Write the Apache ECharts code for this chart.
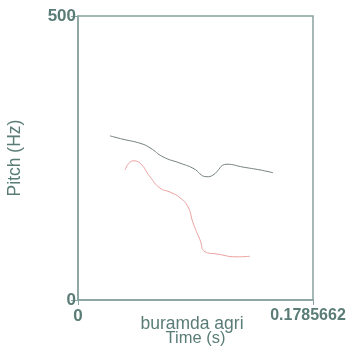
<!DOCTYPE html>
<html><head><meta charset="utf-8">
<script src="https://cdn.jsdelivr.net/npm/echarts@6/dist/echarts.min.js"></script>
<style>html,body{margin:0;padding:0;background:#fff}#c{width:353px;height:350px}</style>
</head><body><div id="c"></div>
<script>
const xMin = 0, xMax = 0.1785662;
const yMin = 0, yMax = 500;
const xTickLabels = ["0", "0.1785662"];
const yTickLabels = ["0", "500"];
const grayTimes = [0.0243,0.0342,0.0471,0.0547,0.0646,0.0775,0.0874,0.0980,0.1026,0.1132,0.1254,0.1383,0.1482];
const grayPitch = [289,283,276,268,252,241,232,217,220,239,234,229,224];
const redTimes = [0.0357,0.0418,0.0471,0.0547,0.0623,0.0699,0.0775,0.0836,0.0874,0.0927,0.0965,0.1056,0.1208,0.1307];
const redPitch = [229,245,241,217,197,190,180,164,136,106,85,81,76,77];
const fileLabel = "buramda agri";

const axisCol = '#86a39f', textCol = '#5a7c76';
const F = 'Liberation Sans';
const chart = echarts.init(document.getElementById('c'));
chart.setOption({
  animation:false,
  grid:{left:78,right:40,top:16,bottom:50,show:true,borderColor:axisCol,borderWidth:1.5,outerBoundsMode:'none',containLabel:false},
  title:{text:fileLabel,left:187,top:310,textAlign:'center',textStyle:{fontFamily:F,fontSize:17.5,fontWeight:'normal',color:textCol}},
  xAxis:{type:'value',min:xMin,max:xMax,splitLine:{show:false},
    axisLine:{show:true,lineStyle:{color:axisCol,width:1.5}},
    axisTick:{show:true,length:5,customValues:[xMin,xMax],lineStyle:{color:axisCol}},
    axisLabel:{customValues:[xMin,xMax],margin:8,fontFamily:F,fontSize:17,fontWeight:'bold',color:textCol,hideOverlap:false,
      formatter:v=>v===xMin?xTickLabels[0]:'{s|'+xTickLabels[1]+'}',
      rich:{s:{fontFamily:F,fontSize:16,fontWeight:'bold',color:textCol,padding:[0,10,0,0]}}},
    name:'Time (s)',nameLocation:'middle',nameGap:27,nameTextStyle:{fontFamily:F,fontSize:16.5,color:textCol}},
  yAxis:{type:'value',min:yMin,max:yMax,splitLine:{show:false},
    axisLine:{show:true,lineStyle:{color:axisCol,width:1.5}},
    axisTick:{show:true,length:7,customValues:[yMin,yMax],lineStyle:{color:axisCol}},
    axisLabel:{customValues:[yMin,yMax],margin:2,fontFamily:F,fontSize:17,fontWeight:'bold',color:textCol,
      formatter:v=>v===yMin?yTickLabels[0]:yTickLabels[1]},
    name:'Pitch (Hz)',nameLocation:'middle',nameGap:54,nameTextStyle:{fontFamily:F,fontSize:17.5,color:textCol}},
  series:[
    {type:'line',data:grayTimes.map((t,i)=>[t,grayPitch[i]]),smooth:true,showSymbol:false,lineStyle:{color:'#75827f',width:1}},
    {type:'line',data:redTimes.map((t,i)=>[t,redPitch[i]]),smooth:true,showSymbol:false,lineStyle:{color:'#eba0a0',width:1}}
  ]
});
</script></body></html>
